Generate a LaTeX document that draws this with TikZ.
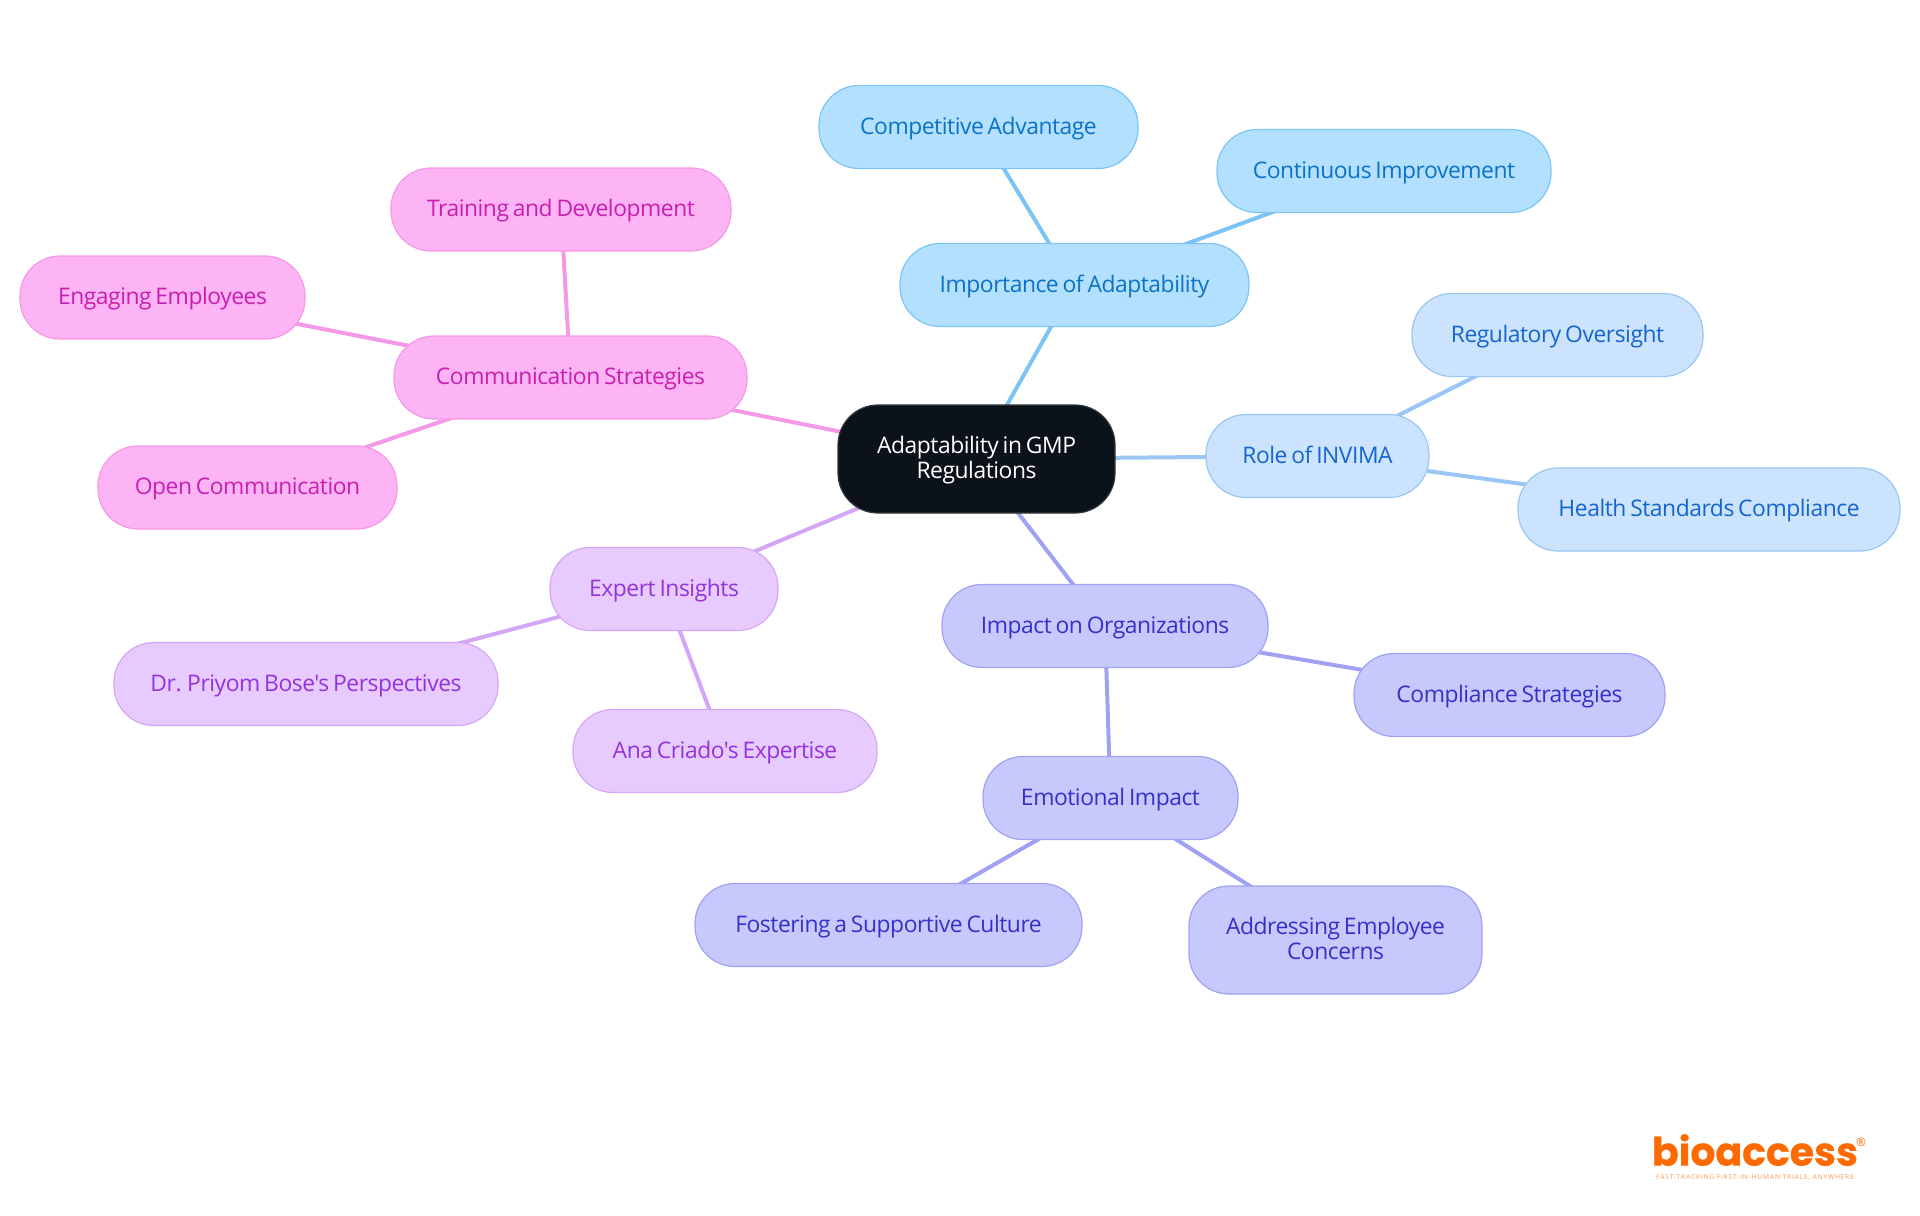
\documentclass[tikz,border=0pt]{standalone}
\usepackage{fontspec}
\setmainfont[LetterSpace=-2,WordSpace=0.7,Ligatures=TeXOff]{Open Sans}
\usetikzlibrary{backgrounds}
\definecolor{skyfill}{HTML}{B3E0FF}
\definecolor{skyline}{HTML}{7CC4F5}
\definecolor{skytext}{HTML}{0B72C4}
\definecolor{bluefill}{HTML}{CCE3FD}
\definecolor{blueline}{HTML}{9AC6F3}
\definecolor{bluetext}{HTML}{1565CF}
\definecolor{indigofill}{HTML}{C7C9FD}
\definecolor{indigoline}{HTML}{A0A1F2}
\definecolor{indigotext}{HTML}{3730C8}
\definecolor{purplefill}{HTML}{E8CBFE}
\definecolor{purpleline}{HTML}{D3A6F6}
\definecolor{purpletext}{HTML}{9333DD}
\definecolor{pinkfill}{HTML}{FDB4F5}
\definecolor{pinkline}{HTML}{F598E8}
\definecolor{pinktext}{HTML}{C81FB0}
\definecolor{rootfill}{HTML}{0C121A}
\definecolor{rootline}{HTML}{33373D}
\definecolor{logoorange}{HTML}{FF6A00}
\tikzset{
    box/.style={rounded corners=0.4cm, line width=0.012cm, minimum height=0.83cm, inner sep=0pt,
        align=center, text height=5pt, text depth=1pt, font=\fontsize{6.5}{7}\selectfont},
    twolines/.style={text height=12pt, minimum height=1.08cm},
    skybox/.style={box, draw=skyline, fill=skyfill, text=skytext},
    bluebox/.style={box, draw=blueline, fill=bluefill, text=bluetext},
    indigobox/.style={box, draw=indigoline, fill=indigofill, text=indigotext},
    purplebox/.style={box, draw=purpleline, fill=purplefill, text=purpletext},
    pinkbox/.style={box, draw=pinkline, fill=pinkfill, text=pinktext},
    rootbox/.style={box, draw=rootline, fill=rootfill, text=white},
    link/.style={line width=0.04cm},
}
\begin{document}
\begin{tikzpicture}
    \useasboundingbox (0,0) rectangle (19.2,-12.15);
    \node[rootbox, twolines, minimum width=2.77cm] (root) at (9.765,-4.59) {Adaptability in GMP\\Regulations};

    \node[skybox, minimum width=3.49cm] (importance) at (10.745,-2.85) {Importance of Adaptability};
    \node[skybox, minimum width=3.19cm] (advantage) at (9.785,-1.27) {Competitive Advantage};
    \node[skybox, minimum width=3.34cm] (improvement) at (13.84,-1.71) {Continuous Improvement};

    \node[bluebox, minimum width=2.23cm] (invima) at (13.175,-4.56) {Role of INVIMA};
    \node[bluebox, minimum width=2.91cm] (oversight) at (15.575,-3.35) {Regulatory Oversight};
    \node[bluebox, minimum width=3.82cm] (standards) at (17.09,-5.095) {Health Standards Compliance};

    \node[indigobox, minimum width=3.26cm] (impact) at (11.05,-6.26) {Impact on Organizations};
    \node[indigobox, minimum width=3.11cm] (compliance) at (15.095,-6.95) {Compliance Strategies};
    \node[indigobox, minimum width=2.55cm] (emotional) at (11.105,-7.98) {Emotional Impact};
    \node[indigobox, minimum width=3.87cm] (culture) at (8.885,-9.25) {Fostering a Supportive Culture};
    \node[indigobox, twolines, minimum width=2.93cm] (concerns) at (13.355,-9.4) {Addressing Employee\\Concerns};

    \node[purplebox, minimum width=2.28cm] (expert) at (6.64,-5.89) {Expert Insights};
    \node[purplebox, minimum width=3.84cm] (priyom) at (3.06,-6.84) {Dr. Priyom Bose's Perspectives};
    \node[purplebox, minimum width=3.04cm] (ana) at (7.25,-7.51) {Ana Criado's Expertise};

    \node[pinkbox, minimum width=3.53cm] (communication) at (5.705,-3.775) {Communication Strategies};
    \node[pinkbox, minimum width=3.40cm] (training) at (5.61,-2.095) {Training and Development};
    \node[pinkbox, minimum width=2.85cm] (engaging) at (1.625,-2.975) {Engaging Employees};
    \node[pinkbox, minimum width=2.99cm] (open) at (2.475,-4.875) {Open Communication};

    % links sit under the boxes
    \begin{scope}[on background layer]
        \draw[link, skyline] (root.center) -- (importance.center);
        \draw[link, skyline] (importance.center) -- (advantage.center);
        \draw[link, skyline] (importance.center) -- (improvement.center);
        \draw[link, blueline] (root.center) -- (invima.center);
        \draw[link, blueline] (invima.center) -- (oversight.center);
        \draw[link, blueline] (invima.center) -- (standards.center);
        \draw[link, indigoline] (root.center) -- (impact.center);
        \draw[link, indigoline] (impact.center) -- (compliance.center);
        \draw[link, indigoline] (impact.center) -- (emotional.center);
        \draw[link, indigoline] (emotional.center) -- (culture.center);
        \draw[link, indigoline] (emotional.center) -- (concerns.center);
        \draw[link, purpleline] (root.center) -- (expert.center);
        \draw[link, purpleline] (expert.center) -- (priyom.center);
        \draw[link, purpleline] (expert.center) -- (ana.center);
        \draw[link, pinkline] (root.center) -- (communication.center);
        \draw[link, pinkline] (communication.center) -- (training.center);
        \draw[link, pinkline] (communication.center) -- (engaging.center);
        \draw[link, pinkline] (communication.center) -- (open.center);
    \end{scope}

    % logo
    \node[text=logoorange, inner sep=0pt, font={\fontspec{Poppins}[FakeBold=0.6]\bfseries\fontsize{11.2}{12}\selectfont}] (logo) at (17.55,-11.5) {bioaccess};
    \node[text=logoorange, inner sep=0pt, font=\fontsize{3.4}{4}\selectfont] (registered) at (18.61,-11.42) {®};
    \node[text=logoorange!70, inner sep=0pt, font={\fontspec{Open Sans}[LetterSpace=12]\fontsize{1.9}{2}\selectfont}] (tagline) at (17.55,-11.77) {FAST-TRACKING FIRST-IN-HUMAN TRIALS, ANYWHERE};
\end{tikzpicture}
\end{document}
